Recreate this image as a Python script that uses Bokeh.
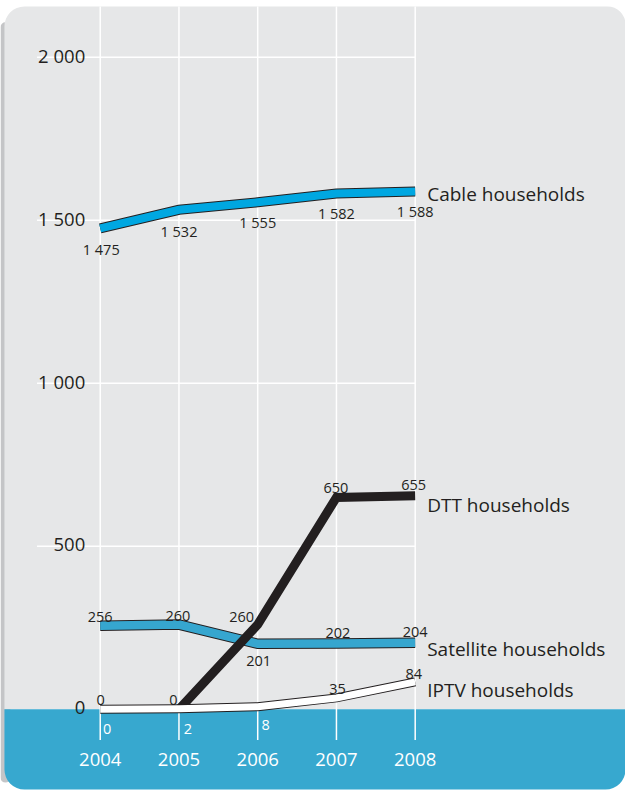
from bokeh.plotting import figure
from bokeh.models import Range1d
from bokeh.core.properties import value
from bokeh.embed import file_html
from bokeh.resources import INLINE

# ---------------- data ----------------
years = [2004, 2005, 2006, 2007, 2008]
cable = [1475, 1532, 1555, 1582, 1588]
dtt = [0, 0, 260, 650, 655]
satellite = [256, 260, 201, 202, 204]
iptv = [0, 2, 8, 35, 84]
y_ticks = [0, 500, 1000, 1500, 2000]
y_tick_labels = ["0", "500", "1 000", "1 500", "2 000"]
year_labels = ["2004", "2005", "2006", "2007", "2008"]
series_names = ["Cable households", "DTT households", "Satellite households", "IPTV households"]
series_last = [cable[-1], dtt[-1], satellite[-1], iptv[-1]]


def fmt(v):
    return f"{v:,}".replace(",", " ")


# ---------------- layout (pixels) ----------------
REF_W, REF_H = 633, 799
W, H = 625, 791
SX, SY = W / REF_W, H / REF_H
X0_PX = 101 * SX          # first year position in figure px
STEP = 79.75 * SX         # px per year
Y0_PX = 716 * SY          # value 0 position in figure px (from top)
PPU = 0.32935 * SY        # px per unit

x_start = years[0] - X0_PX / STEP
x_end = x_start + W / STEP
y_end = Y0_PX / PPU
y_start = y_end - H / PPU


def dx(sx):
    return x_start + (sx * SX) / STEP


def dy(sy):
    return y_end - (sy * SY) / PPU


FONT = value("Open Sans")
DARK = "#231f20"
PANEL = "#e6e7e8"
BAND = "#37a8cf"
CABLE = "#00a7e1"
SAT = "#36a6cf"
SHADOW = "#c4c5c7"

p = figure(width=W, height=H, x_range=Range1d(x_start, x_end), y_range=Range1d(y_start, y_end),
           x_axis_type=None, y_axis_type=None, toolbar_location=None, output_backend="svg",
           min_border=0, outline_line_color=None, background_fill_color="white",
           border_fill_color="white")
p.xgrid.visible = False
p.ygrid.visible = False

# shadow, panel and bottom band
p.quad(left=dx(0), right=dx(10), top=dy(22), bottom=dy(790), fill_color=SHADOW, line_color=None,
       border_radius=6)
p.quad(left=dx(4), right=dx(633), top=dy(6), bottom=y_ticks[0], fill_color=PANEL, line_color=None,
       border_radius=(20, 18, 0, 0))
p.quad(left=dx(4), right=dx(633), top=y_ticks[0], bottom=dy(797), fill_color=BAND, line_color=None,
       border_radius=(0, 0, 20, 20))

# grid lines
p.segment(x0=years, x1=years, y0=[dy(747)] * len(years), y1=[dy(6)] * len(years),
          line_color="white", line_width=1.5)
p.segment(x0=[dx(37)] * 4, x1=[years[-1]] * 4, y0=y_ticks[1:], y1=y_ticks[1:],
          line_color="white", line_width=1.5)

# y tick labels
p.text(x=[years[0]] * len(y_ticks), y=y_ticks, text=y_tick_labels, x_offset=-15, y_offset=-2,
       text_align="right", text_baseline="alphabetic", text_font=FONT, text_font_size="18.5px",
       text_color=DARK)

# year labels
p.text(x=years, y=[0] * len(years), text=year_labels, y_offset=50.5, text_align="center",
       text_baseline="alphabetic", text_font=FONT, text_font_size="18.5px", text_color="white")


def band_line(xs, ys, fill, outer=10, inner=8):
    p.line(xs, ys, line_color=DARK, line_width=outer, line_join="miter", line_cap="butt")
    p.line(xs, ys, line_color=fill, line_width=inner, line_join="miter", line_cap="butt")


band_line(years, cable, CABLE, outer=10, inner=8)
band_line(years, satellite, SAT, outer=10.5, inner=8.5)
p.line(years[1:], dtt[1:], line_color=DARK, line_width=9, line_join="miter", line_cap="butt")
band_line(years, iptv, "white", outer=9, inner=7)


def labels(vals, xoff, yoff, colors):
    p.text(x=years, y=vals, text=[fmt(v) for v in vals], x_offset=xoff, y_offset=yoff,
           text_align="center", text_baseline="alphabetic", text_font=FONT,
           text_font_size="14.5px", text_color=colors)


labels(cable, [1, 0, 0, 0, 0], [21, 22, 20.5, 20, 20], [DARK] * 5)
labels(satellite, [0, -1, 1, 1.5, 0], [-9, -9, 17, -10.5, -10.5], [DARK] * 5)
labels(dtt, [0.5, -5.5, -16, -0.5, -1.5], [-9, -9, -7.5, -9, -11], [DARK] * 5)
labels(iptv, [7, 9, 8, 1, -1.5], [20, 20.5, 18.5, -8.5, -7.5], ["white"] * 3 + [DARK] * 2)

# series names
p.text(x=[years[-1]] * 4, y=series_last, text=series_names, x_offset=12, y_offset=[2, 9, 6, 8.5],
       text_align="left", text_baseline="alphabetic", text_font=FONT, text_font_size="19px",
       text_color=DARK)

open("out.html", "w").write(file_html(p, INLINE))
